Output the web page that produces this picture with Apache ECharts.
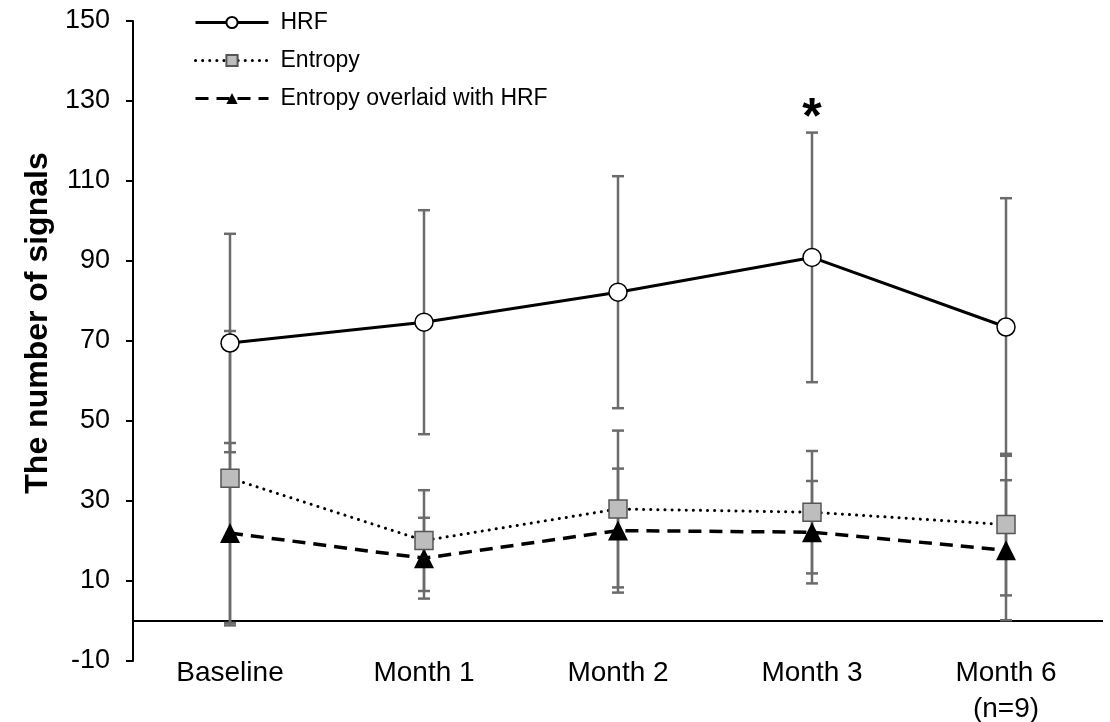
<!DOCTYPE html>
<html>
<head>
<meta charset="utf-8">
<script src="https://cdn.jsdelivr.net/npm/echarts@6/dist/echarts.min.js"></script>
<style>
  html, body { margin: 0; padding: 0; background: #fff; }
  #chart { width: 1110px; height: 722px; }
</style>
</head>
<body>
<div id="chart"></div>
<script>
// ---- data ----
const categories = ['Baseline', 'Month 1', 'Month 2', 'Month 3', 'Month 6\n(n=9)'];
const hrfMean = [69.5, 74.7, 82.2, 90.9, 73.5];
const hrfSD = [27.3, 28.0, 29.0, 31.2, 32.2];
const entropyMean = [35.7, 20.1, 28.0, 27.2, 24.1];
const entropySD = [36.8, 12.6, 19.6, 15.3, 17.7];
const overlaidMean = [22.0, 15.7, 22.6, 22.2, 17.7];
const overlaidSD = [22.5, 10.1, 15.5, 12.8, 17.5];
const significance = ['', '', '', '*', ''];
const yTicks = [-10, 10, 30, 50, 70, 90, 110, 130, 150];
const seriesNames = ['HRF', 'Entropy', 'Entropy overlaid with HRF'];

const FONT = "'Liberation Sans', Arial, Helvetica, sans-serif";
const BAR_COLOR = '#6b6b6b';

function barData(mean, sd) {
  return mean.map((m, i) => [i, m - sd[i], m + sd[i]]);
}

function makeRender(marks) {
  return function (params, api) {
    const idx = params.dataIndex;
    const x = api.value(0);
    const top = api.coord([x, api.value(2)]);
    const bot = api.coord([x, api.value(1)]);
    const half = 6;
    const style = { stroke: BAR_COLOR, lineWidth: 2.5 };
    const children = [
      { type: 'line', shape: { x1: top[0], y1: top[1], x2: bot[0], y2: bot[1] }, style: style },
      { type: 'line', shape: { x1: top[0] - half, y1: top[1], x2: top[0] + half, y2: top[1] }, style: style },
      { type: 'line', shape: { x1: bot[0] - half, y1: bot[1], x2: bot[0] + half, y2: bot[1] }, style: style }
    ];
    if (marks && marks[idx]) {
      children.push({
        type: 'text',
        style: {
          text: marks[idx], x: top[0], y: top[1] + 12,
          align: 'center', verticalAlign: 'bottom',
          font: "bold 50px " + FONT, fill: '#000'
        }
      });
    }
    return { type: 'group', children: children };
  };
}

function errorSeries(name, mean, sd, marks) {
  return {
    type: 'custom',
    name: name,
    data: barData(mean, sd),
    encode: { x: 0, y: [1, 2] },
    renderItem: makeRender(marks),
    z: 1,
    silent: true
  };
}

const chart = echarts.init(document.getElementById('chart'), null, { renderer: 'canvas' });

const option = {
  animation: false,
  backgroundColor: '#fff',
  textStyle: { fontFamily: FONT },
  grid: { left: 133, top: 21, width: 970, bottom: 61, containLabel: false, outerBoundsMode: 'none' },
  legend: {
    data: seriesNames,
    orient: 'vertical',
    left: 189,
    top: 6,
    itemWidth: 73,
    itemHeight: 14,
    itemGap: 15,
    lineStyle: { width: 3 },
    textStyle: { fontSize: 23, color: '#000', fontFamily: FONT, padding: [0, 0, 0, 7] }
  },
  xAxis: {
    type: 'category',
    data: categories,
    axisLine: { show: false },
    axisTick: { show: false },
    axisLabel: { fontSize: 28, color: '#000', margin: -6, lineHeight: 36, interval: 0, fontFamily: FONT }
  },
  yAxis: {
    type: 'value',
    min: -10,
    max: 150,
    name: 'The number of signals',
    nameLocation: 'middle',
    nameRotate: 90,
    nameGap: 76,
    nameTextStyle: { fontSize: 32, fontWeight: 'bold', color: '#000', fontFamily: FONT, padding: [0, 0, 0, 36] },
    splitLine: { show: false },
    axisLine: { show: true, lineStyle: { color: '#000', width: 2 } },
    axisTick: { show: true, inside: false, length: 7, lineStyle: { color: '#000', width: 2 }, customValues: yTicks },
    axisLabel: { fontSize: 27, color: '#000', margin: 23, fontFamily: FONT, customValues: yTicks }
  },
  series: [
    errorSeries('HRF SD', hrfMean, hrfSD, significance),
    errorSeries('Entropy SD', entropyMean, entropySD, null),
    errorSeries('Overlaid SD', overlaidMean, overlaidSD, null),
    {
      type: 'line',
      name: seriesNames[0],
      data: hrfMean,
      z: 5,
      symbol: 'circle',
      symbolSize: 18,
      lineStyle: { color: '#000', width: 3 },
      itemStyle: { color: '#fff', borderColor: '#000', borderWidth: 1.5 },
      markLine: {
        silent: true,
        symbol: ['none', 'none'],
        label: { show: false },
        lineStyle: { color: '#000', width: 2, type: 'solid' },
        data: [{ yAxis: 0 }],
        z: 0
      }
    },
    {
      type: 'line',
      name: seriesNames[1],
      data: entropyMean,
      z: 4,
      symbol: 'rect',
      symbolSize: 18,
      lineStyle: { color: '#000', width: 3, type: [0.1, 7], cap: 'round' },
      itemStyle: { color: '#bdbdbd', borderColor: '#555', borderWidth: 1.5 }
    },
    {
      type: 'line',
      name: seriesNames[2],
      data: overlaidMean,
      z: 3,
      symbol: 'triangle',
      symbolSize: 20,
      lineStyle: { color: '#000', width: 3.5, type: [13, 8] },
      itemStyle: { color: '#000' }
    }
  ]
};

chart.setOption(option);
</script>
</body>
</html>
